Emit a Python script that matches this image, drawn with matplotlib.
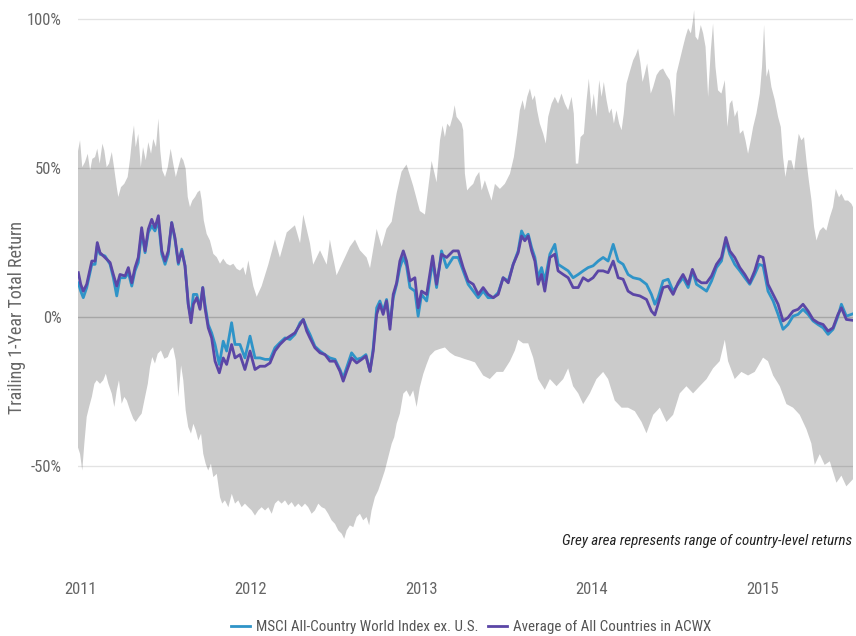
import numpy as np
import matplotlib
matplotlib.use("Agg")
import matplotlib.pyplot as plt
from matplotlib.font_manager import fontManager

names = {f.name for f in fontManager.ttflist}
fam = [f for f in ["Roboto Condensed", "Liberation Sans Narrow", "DejaVu Sans Condensed"] if f in names] + ["DejaVu Sans"]
plt.rcParams["font.family"] = fam

# ---------------- data (years offset from 2011.0, returns in %) ----------------
upper_t = [-0.013, 0.000, 0.013, 0.029, 0.045, 0.059, 0.072, 0.088, 0.101, 0.115, 0.131, 0.142,
           0.156, 0.170, 0.186, 0.199, 0.215, 0.224, 0.240, 0.259, 0.279, 0.293, 0.306, 0.316,
           0.326, 0.341, 0.356, 0.369, 0.385, 0.400, 0.416, 0.429, 0.445, 0.459, 0.470, 0.482,
           0.498, 0.514, 0.531, 0.546, 0.561, 0.576, 0.592, 0.605, 0.619, 0.631, 0.644, 0.658,
           0.674, 0.689, 0.703, 0.713, 0.725, 0.742, 0.761, 0.781, 0.801, 0.820, 0.839, 0.859,
           0.879, 0.898, 0.918, 0.937, 0.956, 0.970, 0.986,
           1.015, 1.035, 1.064, 1.103, 1.142, 1.171, 1.211, 1.259, 1.289, 1.308, 1.347, 1.366,
           1.406, 1.445, 1.464, 1.503, 1.542, 1.581, 1.611, 1.640, 1.679, 1.699, 1.738, 1.767,
           1.796, 1.826, 1.855, 1.884, 1.913, 1.952, 1.991, 2.021, 2.060, 2.089,
           2.109, 2.124, 2.138, 2.151, 2.167, 2.183, 2.195, 2.206, 2.222, 2.236, 2.245, 2.255,
           2.268, 2.284, 2.304, 2.319, 2.339, 2.353, 2.372, 2.391, 2.411, 2.431, 2.460, 2.489,
           2.519, 2.542, 2.561, 2.577, 2.593, 2.606, 2.620, 2.636, 2.651, 2.665, 2.678, 2.694,
           2.714, 2.729, 2.743, 2.763, 2.782, 2.801, 2.821, 2.841, 2.860, 2.880, 2.893, 2.905,
           2.919, 2.933, 2.952, 2.968, 2.981, 2.997, 3.010, 3.026, 3.042, 3.056, 3.069, 3.085,
           3.100, 3.114, 3.128, 3.143, 3.159, 3.173, 3.186, 3.202, 3.221, 3.241, 3.256, 3.270,
           3.284, 3.296, 3.309, 3.323, 3.344, 3.358, 3.378, 3.397, 3.416, 3.436, 3.456, 3.469,
           3.481, 3.495, 3.514, 3.533, 3.548, 3.563, 3.579, 3.592, 3.598, 3.606, 3.621, 3.637,
           3.651, 3.665, 3.680, 3.696, 3.709, 3.723, 3.738, 3.758, 3.778, 3.793, 3.807, 3.821,
           3.836, 3.852, 3.866, 3.885, 3.899, 3.914, 3.930, 3.944, 3.963, 3.983, 3.996, 4.008,
           4.022, 4.035, 4.051, 4.071, 4.090, 4.106, 4.119, 4.133, 4.149, 4.168, 4.184, 4.198,
           4.211, 4.227, 4.242, 4.256, 4.270, 4.286, 4.301, 4.315, 4.334, 4.354, 4.373, 4.393,
           4.412, 4.428, 4.447, 4.461, 4.481, 4.500, 4.520, 4.529]
upper_v = [55.4, 59.3, 50.3, 52, 54.8, 49.2, 53.1, 53.7, 56.5, 51.5, 58.2, 55.9,
           50.3, 51.5, 55.4, 50.3, 43.6, 40.3, 43.6, 44.7, 47, 53.1, 60.4, 64.3,
           57, 61.5, 50.3, 57, 52.6, 58.7, 54.8, 59.8, 57, 66.6, 55.9, 49.2,
           47, 50.3, 56.5, 51.5, 47, 50.3, 53.7, 52.6, 49.7, 40.3, 36.9, 39.1,
           40.3, 41.9, 42.5, 39.1, 32.4, 27.9, 25.7, 21.2, 20.1, 17.9, 19.6, 17.9,
           17.3, 17.9, 16.2, 15.6, 16.8, 14, 19,
           10.4, 6.8, 10.4, 17.6, 26, 20, 28.4, 30.8, 24.8, 34.4, 24.8, 17.6,
           22.4, 17.6, 26, 14, 18.8, 23.6, 26, 22.4, 20, 16.4, 29.6, 23.6,
           29.6, 32, 41.6, 48.8, 51.2, 44, 35.6, 34.4, 52.4, 45.2,
           59.3, 64.3, 60.4, 64.9, 63.8, 67.2, 71.1, 67.2, 66, 64.9, 62.7, 48.1,
           42.5, 43.6, 44.7, 47, 48.7, 42.5, 45.9, 42.5, 39.1, 44.7, 43, 44.7,
           48.1, 53.7, 61.5, 69.4, 72.8, 69.4, 73.9, 76.7, 72.8, 74.4, 69.4, 64.9,
           61.5, 58.2, 67.2, 71.6, 73.9, 71.6, 75, 71.6, 69.4, 73.9, 68.3, 51.5,
           51.5, 60.4, 61.5, 72.8, 80, 69.4, 75, 67.2, 79.5, 73.9, 78.9, 72.8,
           68.3, 70, 64.9, 69.4, 64.9, 62.7, 68.3, 78.4, 82.3, 86.2, 87.9, 90.1,
           85.1, 78.9, 81.7, 85.1, 75, 77.2, 81.2, 82.8, 83.4, 81.2, 79.5, 73.9,
           67.2, 81.7, 86.2, 90.7, 94.1, 96.9, 95.2, 99.7, 103, 94.1, 92.9, 98,
           95.2, 90.7, 73.9, 89.6, 98.5, 84, 76.1, 75, 79.5, 63.8, 71.6, 72.8,
           67.2, 69.4, 61.5, 62.7, 59.3, 54.8, 59.3, 63.8, 68.3, 75, 84, 98,
           80.6, 83.4, 77.2, 72.8, 67.2, 63.8, 53.7, 47, 52.6, 52.6, 49.2, 55.9,
           61.5, 59.3, 60.4, 52.6, 45.9, 39.1, 30.2, 25.7, 29, 30.2, 29, 33.5,
           36.9, 43, 40.2, 41.4, 39.1, 39.1, 38, 36.9]

lower_t = [-0.013, 0.000, 0.013, 0.025, 0.039, 0.053, 0.069, 0.084, 0.098, 0.117, 0.136, 0.151,
           0.166, 0.186, 0.201, 0.215, 0.228, 0.244, 0.259, 0.274, 0.293, 0.312, 0.326, 0.346,
           0.361, 0.381, 0.397, 0.410, 0.423, 0.439, 0.455, 0.474, 0.494, 0.514, 0.529, 0.545,
           0.561, 0.576, 0.592, 0.605, 0.619, 0.634, 0.650, 0.664, 0.678, 0.693, 0.709, 0.722,
           0.736, 0.751, 0.767, 0.781, 0.801, 0.820, 0.833, 0.849, 0.869, 0.889, 0.908, 0.927,
           0.947, 0.966, 0.986, 1.006, 1.025, 1.044, 1.064, 1.084, 1.103, 1.123, 1.142, 1.161,
           1.181, 1.201, 1.220, 1.240, 1.259, 1.279, 1.299, 1.318, 1.337, 1.357, 1.376, 1.396,
           1.416, 1.435, 1.454, 1.474, 1.494, 1.513, 1.533, 1.548, 1.562, 1.581, 1.601, 1.621,
           1.640, 1.659, 1.679, 1.694, 1.708, 1.728, 1.747, 1.767, 1.786, 1.806, 1.826, 1.841,
           1.855, 1.874, 1.894, 1.913, 1.933, 1.952, 1.972, 1.991, 2.011, 2.031, 2.050, 2.079,
           2.108, 2.138, 2.167, 2.196, 2.226, 2.255, 2.284, 2.314,
           2.362, 2.401, 2.441, 2.479, 2.519, 2.548, 2.567, 2.596, 2.626, 2.655, 2.684, 2.723,
           2.753, 2.792, 2.831, 2.860, 2.889, 2.919, 2.948, 2.987, 3.026, 3.065, 3.094, 3.133,
           3.173, 3.211, 3.251, 3.290, 3.319, 3.358, 3.397, 3.436, 3.475, 3.514, 3.553, 3.592,
           3.631, 3.671, 3.709, 3.748, 3.778, 3.797, 3.836, 3.875, 3.914, 3.953, 4.002, 4.031,
           4.061, 4.100, 4.139, 4.178, 4.217, 4.256, 4.285, 4.305, 4.334, 4.363, 4.393, 4.432,
           4.461, 4.490, 4.529]
lower_v = [-43.6, -45.9, -51.5, -42.5, -33.5, -30.2, -26.8, -22.4, -21.2, -22.4, -21.2, -19,
           -22.4, -25.7, -30.2, -24.6, -21.2, -29.1, -26.8, -28, -31.3, -34.1, -35.2, -33.5,
           -32.4, -26.8, -22.4, -16.8, -13.4, -15.6, -12.3, -11.2, -14, -13.4, -11.2, -10.1,
           -14.5, -26.8, -16.2, -21.2, -31.3, -36.9, -39.1, -35.8, -38, -41.4, -39.1, -45.9,
           -49.2, -51.5, -49.2, -53.7, -52.6, -60.4, -62.6, -61.5, -63.8, -59.3, -62.6, -61.5,
           -63.8, -62.6, -63.8, -64.9, -66.6, -64.9, -63.8, -64.9, -63.8, -66, -62.6, -61.5,
           -62.6, -61.5, -63.2, -62.1, -63.8, -62.6, -63.8, -62.6, -63.8, -66, -64.9, -62.6,
           -63.8, -64.3, -66, -68.2, -69.4, -71.6, -72.7, -74.4, -71.6, -69.9, -70.5, -67.1,
           -66, -68.2, -67.1, -69.9, -64.9, -60.4, -58.2, -54.8, -51.5, -47, -42.5, -40.3,
           -35.8, -32.4, -25.7, -24.6, -26.8, -24.6, -30.2, -23.5, -19.1, -15.8, -13, -11.3,
           -10.7, -10.2, -11.9, -13, -13.5, -14.1, -14.6, -15.2,
           -19.6, -20.8, -18.4, -18.4, -14.8, -11.2, -7.6, -8.8, -8.8, -13.6, -20.8, -24.4,
           -20.8, -23.2, -20.8, -17.2, -23.2, -25.6, -29.2, -25.6, -20.8, -18.4, -20.8, -28,
           -30.4, -30.4, -31.6, -35.2, -39, -32.8, -30.4, -35.2, -32.8, -25.6, -23.2, -25.6,
           -23.2, -20.8, -17.2, -14.8, -7.6, -14.8, -20.8, -18.4, -19.6, -18.4, -13.6, -14.8,
           -19.6, -23.2, -29.2, -30.4, -32.8, -37.6, -42.4, -49.6, -46, -49.6, -48.4, -55.6,
           -53.2, -56.8, -54.4]

line_t = [-0.010, 0.004, 0.019, 0.039, 0.069, 0.088, 0.101, 0.117, 0.146, 0.176, 0.195, 0.215,
          0.234, 0.264, 0.283, 0.303, 0.322, 0.341, 0.361, 0.381, 0.400, 0.420, 0.439, 0.459,
          0.479, 0.498, 0.517, 0.537, 0.556, 0.576, 0.596, 0.615, 0.634, 0.650, 0.664, 0.684,
          0.703, 0.719, 0.732, 0.751, 0.771, 0.791, 0.816, 0.839, 0.859, 0.888, 0.908, 0.937,
          0.966, 0.996, 1.025, 1.054, 1.084, 1.113, 1.142, 1.171, 1.201, 1.230, 1.259, 1.289,
          1.308, 1.328, 1.347, 1.376, 1.406, 1.435, 1.464, 1.494, 1.523, 1.542, 1.562, 1.591,
          1.621, 1.650, 1.675, 1.699, 1.718, 1.738, 1.757, 1.776, 1.796, 1.816, 1.835, 1.855,
          1.874, 1.894, 1.913, 1.933, 1.962, 1.981, 2.001, 2.031, 2.066, 2.089, 2.118, 2.148,
          2.186, 2.216, 2.245, 2.274, 2.304, 2.333, 2.362, 2.391, 2.421, 2.450, 2.479, 2.509,
          2.538, 2.567, 2.587, 2.606, 2.626, 2.646, 2.665, 2.684, 2.704, 2.723, 2.753, 2.782,
          2.801, 2.831, 2.860, 2.889, 2.919, 2.948, 2.977, 3.006, 3.036, 3.065, 3.094, 3.124,
          3.153, 3.182, 3.211, 3.241, 3.280, 3.319, 3.348, 3.368, 3.387, 3.416, 3.446, 3.475,
          3.504, 3.533, 3.563, 3.588, 3.612, 3.641, 3.671, 3.700, 3.729, 3.758, 3.784, 3.807,
          3.836, 3.866, 3.895, 3.924, 3.953, 3.979, 4.002, 4.031, 4.061, 4.090, 4.119, 4.148,
          4.178, 4.207, 4.236, 4.266, 4.295, 4.324, 4.354, 4.383, 4.412, 4.441, 4.461, 4.490,
          4.529]
average_v = [14.9, 11, 8.7, 11, 18.8, 18.8, 25, 21.6, 20, 18.3, 14.3, 10.4,
             14.3, 13.8, 16.6, 11.5, 16.6, 20, 30, 22.2, 29.5, 32.8, 30, 34,
             22.2, 18.8, 22.2, 31.7, 26.7, 18.3, 22.2, 17.2, 4.3, -1.9, 4.3, 6.5,
             2.6, 9.9, 3.1, -3.6, -7, -14.8, -18.7, -13.7, -15.9, -9.2, -13.7, -12.6,
             -17.6, -11.4, -17.6, -16.5, -16.5, -15.4, -11.4, -9.2, -7.5, -6.4, -5.3, -2.5,
             -0.8, -4.7, -7, -10.3, -12, -12.6, -14.8, -14.8, -18.2, -21.5, -18.2, -13.7,
             -15.4, -14.2, -13.1, -18.2, -11.4, 0.9, 4.3, 0.9, 5.4, -4.1, 7.6, 11.5,
             18.8, 22.2, 18.8, 12.1, 13.2, 3.1, 8.7, 7.6, 20.5, 11, 21.1, 20,
             22.2, 22.2, 16.6, 12.1, 11, 7.6, 9.9, 7.6, 6.5, 7.6, 13.2, 11.5,
             17.7, 21.6, 27.2, 25.6, 27.2, 22.2, 18.8, 11, 14.3, 8.7, 20, 21.1,
             15.5, 14.3, 13.2, 9.9, 9.9, 13.2, 12.1, 13.2, 15.5, 15.5, 14.9, 18.8,
             13.2, 12.7, 8.7, 7.6, 7.1, 5.9, 2, 0.7, 4.3, 9.9, 10.4, 7.6,
             11.5, 14.3, 11, 16, 12.7, 11.5, 11.5, 13.8, 17.7, 20, 26.7, 22.2,
             20, 16.6, 14.3, 11.5, 15.5, 20.5, 20, 11, 7.6, 4.3, -1.3, -0.2,
             2, 2.6, 4.3, 2, -0.8, -1.9, -2.5, -4.7, -3.6, 0.9, 3.1, -0.8,
             -1.1]
msci_v = [11.5, 8.7, 6.5, 9.9, 17.7, 17.7, 23.9, 21.1, 20.5, 17.7, 13.2, 7.1,
          13.2, 13.2, 14.9, 10.4, 15.5, 18.3, 28.4, 21.6, 28.4, 30.6, 28.9, 32.3,
          21.1, 17.7, 21.1, 31.7, 26.1, 17.7, 22.8, 17.2, 4.3, -0.2, 7.6, 7.6,
          3.1, 9.9, 4.3, -2.5, -5.3, -9.2, -15.9, -8.1, -11.4, -1.9, -9.2, -9.2,
          -13.7, -6.4, -13.7, -13.7, -14.2, -14.2, -10.3, -8.6, -7, -7.5, -5.8, -1.9,
          -0.8, -3.6, -5.8, -9.8, -11.4, -12.6, -13.7, -14.2, -17.6, -20.4, -17, -12,
          -14.2, -13.7, -12.6, -18.2, -10.3, 3.1, 5.4, 2, 5.9, -2.5, 6.5, 11,
          16.6, 20, 17.2, 9.9, 8.7, 0.3, 7.6, 5.4, 18.8, 9.9, 22.2, 16.6,
          20, 20, 15.5, 11, 8.7, 6.5, 8.7, 6.5, 6.5, 8.2, 13.2, 12.1,
          17.7, 22.2, 28.9, 26.7, 27.8, 23.3, 20, 13.2, 16.6, 12.1, 21.1, 24.4,
          17.7, 16.6, 15.5, 13.2, 14.3, 15.5, 16.6, 17.2, 18.8, 20, 18.8, 24.4,
          18.8, 17.7, 14.3, 13.2, 12.7, 11, 7.6, 4.3, 6.5, 12.1, 12.7, 8.7,
          11, 13.2, 9.9, 15.5, 11, 9.9, 8.7, 12.1, 16.6, 18.8, 25.6, 21.1,
          17.7, 15.5, 13.2, 11, 14.3, 17.7, 17.2, 8.7, 5.4, 0.9, -4.1, -2.5,
          0.3, 0.9, 2.6, 0.9, -1.3, -2.5, -3.6, -5.8, -4.1, 0.3, 4.3, 0.3,
          1.1]

year_ticks = [2011, 2012, 2013, 2014, 2015]
y_ticks = [-50, 0, 50, 100]
y_tick_labels = ["-50%", "0%", "50%", "100%"]
series_names = ["MSCI All-Country World Index ex. U.S.", "Average of All Countries in ACWX"]
note = "Grey area represents range of country-level returns"
y_title = "Trailing 1-Year Total Return"

# ---------------- plot ----------------
BASE = 2011.0
ut = BASE + np.array(upper_t)
lt = BASE + np.array(lower_t)
tt = BASE + np.array(line_t)

fig = plt.figure(figsize=(8.56, 6.36), dpi=100)
ax = fig.add_axes([78 / 856, 1 - 565 / 636, (853 - 78) / 856, 565 / 636])

ax.fill(np.concatenate([ut, lt[::-1]]), np.concatenate([upper_v, lower_v[::-1]]),
        color="#cbcbcb", lw=0, zorder=1)

for yv in y_ticks:
    ax.axhline(yv, color="black", alpha=0.11 if yv != 0 else 0.18, lw=1, zorder=2)

blue = "#2f94c8"
purple = "#5b46a6"
l1, = ax.plot(tt, msci_v, color=blue, lw=2, zorder=3, solid_joinstyle="round")
l2, = ax.plot(tt, average_v, color=purple, lw=2, zorder=4, solid_joinstyle="round")

ax.set_xlim(BASE - 0.012, BASE + 4.529)
ax.set_ylim(-83.2, 106.4)
ax.set_xticks(year_ticks)
ax.set_xticklabels([str(y) for y in year_ticks])
ax.set_yticks(y_ticks)
ax.set_yticklabels(y_tick_labels)
ax.tick_params(length=0, labelsize=12, colors="#666666")
ax.tick_params(axis="x", pad=12)
ax.tick_params(axis="y", pad=12)
for s in ax.spines.values():
    s.set_visible(False)

ax.text(0.9995, 1 - 541 / 565, note, transform=ax.transAxes, ha="right", va="center",
        fontsize=10.8, style="italic", color="#222222")

fig.text(17 / 856, 1 - 318 / 636, y_title, rotation=90, ha="center", va="center",
         fontsize=13, color="#666666")

fig.legend([l1, l2], series_names, loc="center", bbox_to_anchor=(471 / 856, 1 - 627 / 636),
           ncol=2, frameon=False, fontsize=10.8, handlelength=1.3, handletextpad=0.4,
           columnspacing=0.6, labelcolor="#555555")

fig.savefig("out.png", dpi=100)
